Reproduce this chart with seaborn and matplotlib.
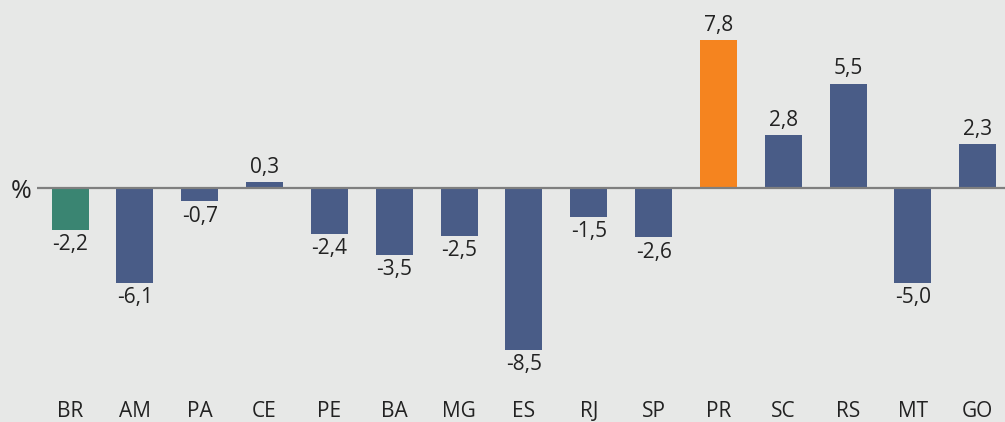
import matplotlib
matplotlib.use("Agg")
import matplotlib.pyplot as plt
import seaborn as sns
import pandas as pd

categories = ["BR", "AM", "PA", "CE", "PE", "BA", "MG", "ES", "RJ", "SP", "PR", "SC", "RS", "MT", "GO"]
# bar lengths as drawn in the picture (AM's bar is drawn at about -5.0)
bar_values = [-2.2, -5.0, -0.7, 0.3, -2.4, -3.5, -2.5, -8.5, -1.5, -2.6, 7.8, 2.8, 5.5, -5.0, 2.3]
# numbers printed next to the bars
value_labels = ["-2,2", "-6,1", "-0,7", "0,3", "-2,4", "-3,5", "-2,5", "-8,5", "-1,5", "-2,6",
                "7,8", "2,8", "5,5", "-5,0", "2,3"]

BLUE = "#495c87"
GREEN = "#3a8572"
ORANGE = "#f5841f"
BG = "#e7e8e7"

colors = {c: BLUE for c in categories}
colors["BR"] = GREEN
colors["PR"] = ORANGE

sns.set_theme(style="white")
plt.rcParams["font.family"] = ["Open Sans", "DejaVu Sans"]

df = pd.DataFrame({"uf": categories, "v": bar_values})

fig = plt.figure(figsize=(10.05, 4.22), dpi=100, facecolor=BG)
ax = fig.add_axes([37 / 1005, 24 / 422, 968 / 1005, 398 / 422])
ax.set_facecolor(BG)

sns.barplot(data=df, x="uf", y="v", hue="uf", palette=colors, legend=False,
            width=0.57, saturation=1, ax=ax, order=categories, linewidth=0)

label_map = dict(zip(categories, value_labels))
for c, cat in zip(ax.containers, categories):
    ax.bar_label(c, labels=[label_map[cat]] * len(c.datavalues), padding=3,
                 fontsize=15, color="#222222")

ax.axhline(0, color="#7f7f7f", lw=1.6, zorder=3)
ax.set_xlim(-0.51, 14.42)
ax.set_ylim(-11.05, 9.9)
ax.set_yticks([0])
ax.set_yticklabels(["%"], fontsize=18, color="#222222")
ax.tick_params(axis="y", length=0, pad=4)
ax.tick_params(axis="x", length=0, pad=2, labelsize=15, labelcolor="#222222")
ax.set_xlabel("")
ax.set_ylabel("")
for s in ax.spines.values():
    s.set_visible(False)

fig.savefig("out.png", dpi=100, facecolor=BG)
